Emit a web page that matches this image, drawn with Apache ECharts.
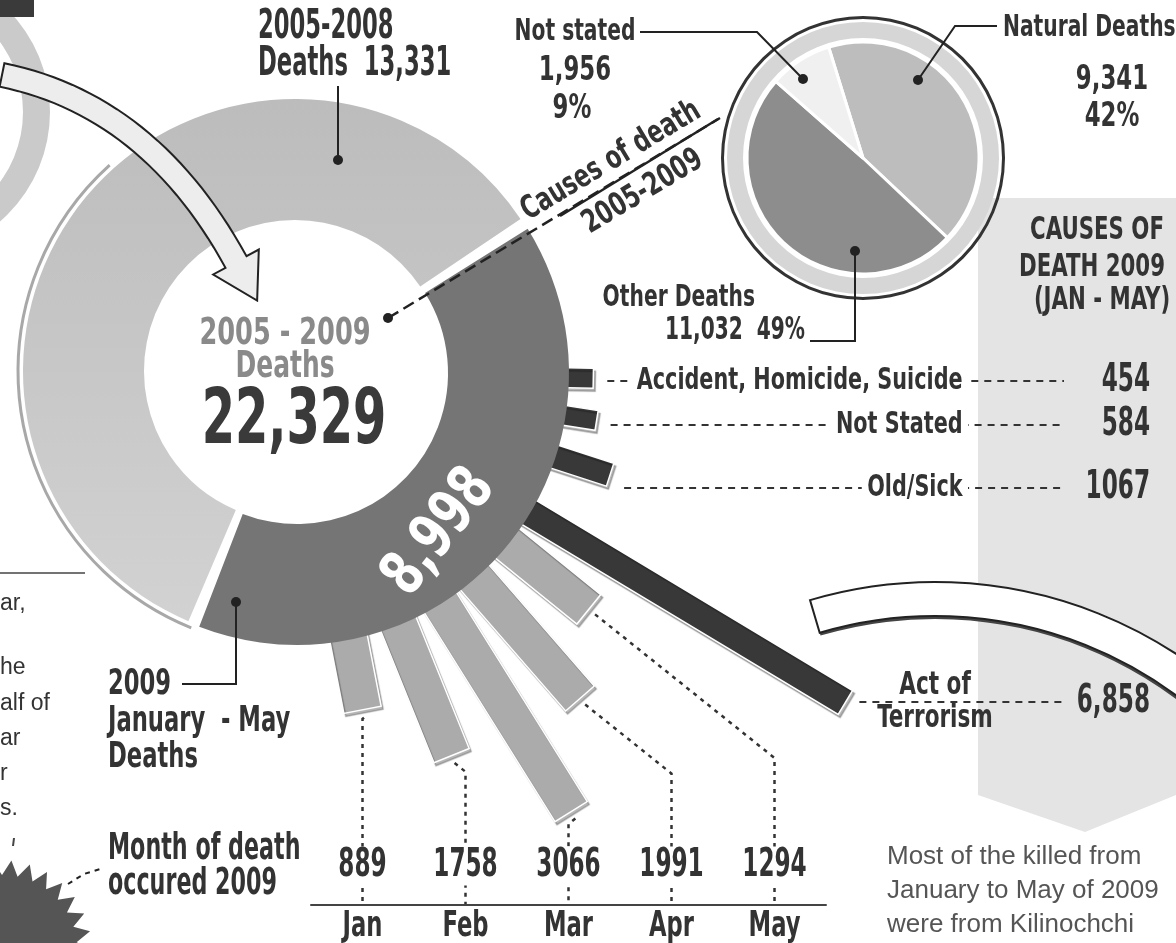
<!DOCTYPE html>
<html>
<head>
<meta charset="utf-8">
<title>Deaths 2005-2009</title>
<script src="https://cdn.jsdelivr.net/npm/echarts@6/dist/echarts.min.js"></script>
<style>
  html, body { margin: 0; padding: 0; background: #fff; }
  #chart { width: 1176px; height: 943px; }
</style>
</head>
<body>
<div id="chart"></div>
<script>
const periods = ['2009 January - May', '2005-2008'];
const periodDeaths = [8998, 13331];
const causes = ['Natural Deaths', 'Other Deaths', 'Not stated'];
const causeDeaths = [9341, 11032, 1956];
const causePct = [42, 49, 9];
const months = ['Jan', 'Feb', 'Mar', 'Apr', 'May'];
const monthDeaths = [889, 1758, 3066, 1991, 1294];
const causes2009 = ['Accident, Homicide, Suicide', 'Not Stated', 'Old/Sick', 'Act of\nTerrorism'];
const causes2009Deaths = [454, 584, 1067, 6858];

// ---- layout ----
const FONT = '"DejaVu Sans Condensed", "Liberation Sans Narrow", sans-serif';
const SANS = '"Liberation Sans", Arial, sans-serif';
const INK = '#333';
const ringC = [295, 371];
const darkC = [297, 373];
const ringR = [151, 272];
const causeAngles = [91, 99, 108, 121];
const causeRowY = [381, 425, 488, 702];
const causeBarW = [20, 20, 24, 28];
const monthAngles = [169, 158, 148, 139, 129];
const monthBarW = 38;
const axisLeft = 311, axisWidth = 515, axisY = 905;
const pieC = [863, 158];

const fmt = v => v.toLocaleString('en-US');
const total = periodDeaths.reduce((a, b) => a + b, 0);
const deg = Math.PI / 180;

function barGeom(params, api, width) {
  const cs = params.coordSys;
  const a = api.value(1);
  const base = api.coord([0, a]);
  const tip = api.coord([api.value(0), a]);
  let ux = base[0] - cs.cx, uy = base[1] - cs.cy;
  const l = Math.hypot(ux, uy);
  ux /= l; uy /= l;
  const nx = -uy * width / 2, ny = ux * width / 2;
  const s = [base[0] - ux * 14, base[1] - uy * 14];
  return {
    tip, ux, uy,
    pts: [[s[0] + nx, s[1] + ny], [tip[0] + nx, tip[1] + ny], [tip[0] - nx, tip[1] - ny], [s[0] - nx, s[1] - ny]]
  };
}

function barStyle(fill) {
  return { fill: fill, stroke: '#fff', lineWidth: 1.5, shadowColor: 'rgba(0,0,0,0.28)', shadowOffsetX: 2, shadowOffsetY: 3, shadowBlur: 1 };
}

// condensed heavy headline type: DejaVu Sans Condensed squeezed with scaleX
function txt(text, x, y, size, opts) {
  opts = opts || {};
  return {
    type: 'text', z: opts.z || 30, x: x, y: y, rotation: opts.rot || 0, scaleX: opts.sx || 1,
    style: {
      text: text, x: 0, y: 0,
      textAlign: opts.align || 'left', textVerticalAlign: 'middle',
      font: (opts.weight || 'bold') + ' ' + size + 'px ' + (opts.family || FONT),
      fill: opts.fill || INK
    }
  };
}
function poly(points, opts) {
  opts = opts || {};
  return { type: 'polyline', z: opts.z || 25, shape: { points: points },
    style: { stroke: opts.stroke || '#222', lineWidth: opts.w || 2, lineDash: opts.dash || null, fill: null } };
}
function dot(x, y) {
  return { type: 'circle', z: 26, shape: { cx: x, cy: y, r: 5 }, style: { fill: '#222' } };
}

function arrowPoints() {
  const P0 = [2, 75], C = [150, 105], P2 = [236, 262], hw = 12;
  const lo = [], hi = [];
  for (let k = 0; k <= 30; k++) {
    const t = k / 30;
    const x = (1 - t) * (1 - t) * P0[0] + 2 * (1 - t) * t * C[0] + t * t * P2[0];
    const y = (1 - t) * (1 - t) * P0[1] + 2 * (1 - t) * t * C[1] + t * t * P2[1];
    const dx = 2 * (1 - t) * (C[0] - P0[0]) + 2 * t * (P2[0] - C[0]);
    const dy = 2 * (1 - t) * (C[1] - P0[1]) + 2 * t * (P2[1] - C[1]);
    const l = Math.hypot(dx, dy);
    lo.push([x - dy / l * hw, y + dx / l * hw]);
    hi.push([x + dy / l * hw, y - dx / l * hw]);
  }
  let tx = P2[0] - C[0], ty = P2[1] - C[1];
  const tl = Math.hypot(tx, ty); tx /= tl; ty /= tl;
  const nx = -ty, ny = tx;
  return lo.concat([[P2[0] + nx * 26, P2[1] + ny * 26], [P2[0] + tx * 44, P2[1] + ty * 44], [P2[0] - nx * 26, P2[1] - ny * 26]], hi.reverse());
}

function starPoints(cx, cy, rOut, rIn, n) {
  const pts = [];
  for (let k = 0; k < n * 2; k++) {
    const r = k % 2 ? rIn : rOut;
    const a = Math.PI * k / n;
    pts.push([cx + r * Math.cos(a), cy + r * Math.sin(a)]);
  }
  return pts;
}

const note = { weight: 'normal', family: SANS, fill: '#555' };
const frag = { weight: 'normal', family: SANS, fill: '#333' };

const graphics = [
  // right hand panel
  { type: 'polygon', z: 0, shape: { points: [[978, 198], [1176, 198], [1176, 795], [1085, 832], [978, 795]] }, style: { fill: '#e4e4e4' } },
  // curved white band
  { type: 'sector', z: 4, shape: { cx: 935, cy: 1022, r: 409, r0: 403, startAngle: -106.5 * deg, endAngle: -30 * deg }, style: { fill: '#444' } },
  { type: 'sector', z: 5, shape: { cx: 935, cy: 1022, r: 440, r0: 406, startAngle: -106.5 * deg, endAngle: -30 * deg }, style: { fill: '#fff', stroke: '#222', lineWidth: 2 } },
  // thin outline along the left of the donut
  { type: 'arc', z: 3, shape: { cx: ringC[0], cy: ringC[1], r: 277, startAngle: 112 * deg, endAngle: 228 * deg }, style: { stroke: '#a8a8a8', lineWidth: 3, fill: null } },
  // partial graphic top-left
  { type: 'ring', z: 1, shape: { cx: -95, cy: 112, r: 145, r0: 118 }, style: { fill: '#cacaca' } },
  { type: 'rect', z: 1, shape: { x: 0, y: 0, width: 34, height: 17 }, style: { fill: '#3a3a3a' } },
  // arrow
  { type: 'polygon', z: 20, shape: { points: arrowPoints() }, style: { fill: '#ededed', stroke: '#222', lineWidth: 2 } },
  // left column fragments
  { type: 'line', z: 20, shape: { x1: 0, y1: 573, x2: 85, y2: 573 }, style: { stroke: '#444', lineWidth: 1.5 } },
  txt('ar,', 0, 604, 23, frag),
  txt('he', 0, 668, 23, frag),
  txt('alf of', 0, 704, 23, frag),
  txt('ar', 0, 739, 23, frag),
  txt('r', 0, 774, 23, frag),
  txt('s.', 0, 809, 23, frag),
  { type: 'line', z: 20, shape: { x1: 14, y1: 838, x2: 13, y2: 846 }, style: { stroke: '#444', lineWidth: 2 } },
  // starburst
  { type: 'polygon', z: 20, shape: { points: starPoints(2, 950, 90, 75, 30) }, style: { fill: '#555' } },
  poly([[68, 884], [84, 874], [100, 869]], { dash: [5, 5] }),

  // donut labels
  txt('2005-2008', 258, 28, 40, { sx: 0.63 }),
  txt('Deaths  ' + fmt(periodDeaths[1]), 258, 65, 40, { sx: 0.63 }),
  poly([[338, 86], [338, 158]]),
  dot(338, 160),
  txt('2005 - 2009', 285, 334, 38, { align: 'center', fill: '#8a8a8a', sx: 0.75 }),
  txt('Deaths', 285, 367, 38, { align: 'center', fill: '#8a8a8a', sx: 0.73 }),
  txt(fmt(total), 294, 423, 76, { align: 'center', fill: '#3a3a3a', sx: 0.7 }),
  txt(fmt(periodDeaths[0]), 440, 533, 62, { align: 'center', fill: '#fff', rot: 52 * deg, sx: 0.8 }),
  txt('2009', 108, 685, 36, { sx: 0.7 }),
  txt('January  - May', 108, 722, 36, { sx: 0.7 }),
  txt('Deaths', 108, 758, 36, { sx: 0.7 }),
  poly([[182, 684], [236, 684], [236, 602]]),
  dot(236, 602),
  txt('Month of death', 108, 849, 38, { sx: 0.65 }),
  txt('occured 2009', 108, 884, 38, { sx: 0.65 }),

  // causes of death link
  poly([[388, 318], [720, 118]], { dash: [12, 6], w: 2.5 }),
  poly([[560, 216], [718, 119]], { w: 2.5 }),
  dot(388, 318),
  txt('Causes of death', 611, 161, 32, { align: 'center', rot: 31 * deg, sx: 0.78 }),
  txt('2005-2009', 643, 192, 32, { align: 'center', rot: 31 * deg, sx: 0.78 }),

  // pie labels
  txt(causes[2], 575, 32, 30, { align: 'center', sx: 0.75 }),
  txt(fmt(causeDeaths[2]), 575, 71, 33, { align: 'center', sx: 0.77 }),
  txt(causePct[2] + '%', 572, 109, 33, { align: 'center', sx: 0.77 }),
  poly([[640, 32], [757, 32], [803, 79]]),
  dot(803, 79),
  txt(causes[0], 1003, 28, 30, { sx: 0.75 }),
  txt(fmt(causeDeaths[0]), 1112, 80, 33, { align: 'center', sx: 0.77 }),
  txt(causePct[0] + '%', 1112, 117, 33, { align: 'center', sx: 0.77 }),
  poly([[997, 26], [955, 26], [918, 80]]),
  dot(918, 80),
  txt(causes[1], 755, 298, 30, { align: 'right', sx: 0.75 }),
  txt(fmt(causeDeaths[1]) + '  ' + causePct[1] + '%', 805, 331, 32, { align: 'right', sx: 0.7 }),
  poly([[810, 341], [855, 341], [855, 251]]),
  dot(855, 251),

  // panel title
  txt('CAUSES OF', 1097, 231, 32, { align: 'center', sx: 0.74 }),
  txt('DEATH 2009', 1092, 268, 32, { align: 'center', sx: 0.74 }),
  txt('(JAN - MAY)', 1102, 301, 32, { align: 'center', sx: 0.74 }),

  // note
  txt('Most of the killed from', 887, 857, 26, note),
  txt('January to May of 2009', 887, 891, 26, note),
  txt('were from Kilinochchi', 887, 925, 26, note)
];

const hidden = { show: false };
const chart = echarts.init(document.getElementById('chart'));
chart.setOption({
  animation: false,
  backgroundColor: '#fff',
  polar: [
    { center: darkC, radius: [272, 701] },
    { center: darkC, radius: [272, 592] }
  ],
  angleAxis: [
    { polarIndex: 0, type: 'value', min: 0, max: 360, startAngle: 90, clockwise: true, show: false },
    { polarIndex: 1, type: 'value', min: 0, max: 360, startAngle: 90, clockwise: true, show: false }
  ],
  radiusAxis: [
    { polarIndex: 0, type: 'value', min: 0, max: 8000, show: false },
    { polarIndex: 1, type: 'value', min: 0, max: 4000, show: false }
  ],
  grid: { left: axisLeft, width: axisWidth, top: axisY - 1, height: 1 },
  xAxis: {
    type: 'category', data: months, position: 'bottom', z: 10,
    axisLine: { lineStyle: { color: '#444', width: 2 } }, axisTick: hidden,
    axisLabel: { show: false }
  },
  yAxis: { type: 'value', show: false },
  graphic: { elements: graphics },
  series: [
    {
      type: 'custom', name: 'Causes of death 2009', coordinateSystem: 'polar', polarIndex: 0, z: 1,
      data: causes2009Deaths.map((v, i) => [v, causeAngles[i]]),
      renderItem: function (params, api) {
        const i = params.dataIndex;
        const b = barGeom(params, api, causeBarW[i]);
        const y = causeRowY[i];
        const last = i === causes2009.length - 1;
        const v = causes2009Deaths[i];
        return {
          type: 'group',
          children: [
            { type: 'polygon', shape: { points: b.pts }, style: barStyle('#383838') },
            { type: 'line', shape: { x1: b.tip[0] + 14, y1: y, x2: 1064, y2: y }, style: { stroke: INK, lineWidth: 2, lineDash: [7, 6] } },
            {
              type: 'text', x: last ? 935 : 968, y: y, scaleX: last ? 0.75 : 0.77,
              style: {
                text: causes2009[i], x: 0, y: 0,
                textAlign: last ? 'center' : 'right', textVerticalAlign: 'middle',
                font: 'bold ' + (last ? 32 : 30) + 'px ' + FONT, fill: INK, lineHeight: 33,
                backgroundColor: last ? 'transparent' : '#fff', padding: last ? 0 : [0, 7]
              }
            },
            {
              type: 'text', x: 1150, y: y, scaleX: 0.66,
              style: {
                text: v >= 5000 ? fmt(v) : String(v), x: 0, y: 0,
                textAlign: 'right', textVerticalAlign: 'middle',
                font: 'bold 39px ' + FONT, fill: INK
              }
            }
          ]
        };
      }
    },
    {
      type: 'custom', name: 'Month of death 2009', coordinateSystem: 'polar', polarIndex: 1, z: 1,
      data: monthDeaths.map((v, i) => [v, monthAngles[i]]),
      renderItem: function (params, api) {
        const i = params.dataIndex;
        const b = barGeom(params, api, monthBarW);
        const lx = axisLeft + (i + 0.5) * axisWidth / months.length;
        const p0 = [b.tip[0] + b.ux * 8, b.tip[1] + b.uy * 8];
        const p1 = [lx, p0[1] + Math.abs(lx - p0[0]) * 0.8];
        return {
          type: 'group',
          children: [
            { type: 'polygon', shape: { points: b.pts }, style: barStyle('#ababab') },
            { type: 'polyline', shape: { points: [p0, p1, [lx, axisY]] }, style: { stroke: INK, lineWidth: 2.5, lineDash: [4, 5], fill: null } },
            {
              type: 'text', x: lx, y: axisY - 39, scaleX: 0.66,
              style: {
                text: String(monthDeaths[i]), x: 0, y: 0,
                textAlign: 'center', textVerticalAlign: 'middle',
                font: 'bold 39px ' + FONT, fill: INK,
                backgroundColor: '#fff', padding: [0, 5]
              }
            },
            {
              type: 'text', x: lx, y: axisY + 22, scaleX: 0.7,
              style: {
                text: months[i], x: 0, y: 0,
                textAlign: 'center', textVerticalAlign: 'middle',
                font: 'bold 36px ' + FONT, fill: INK
              }
            }
          ]
        };
      }
    },
    {
      type: 'pie', center: ringC, radius: ringR, startAngle: 33, silent: true, z: 3,
      label: hidden, labelLine: hidden, padAngle: 2,
      data: [
        { name: periods[0], value: periodDeaths[0], itemStyle: { color: 'transparent' } },
        {
          name: periods[1], value: periodDeaths[1],
          itemStyle: { color: { type: 'linear', x: 0, y: 0, x2: 0, y2: 1, colorStops: [{ offset: 0, color: '#bcbcbc' }, { offset: 1, color: '#d2d2d2' }] } }
        }
      ]
    },
    {
      type: 'pie', center: darkC, radius: ringR, startAngle: 33, silent: true, z: 3,
      label: hidden, labelLine: hidden, padAngle: 2,
      data: [
        { name: periods[0], value: periodDeaths[0], itemStyle: { color: '#757575' } },
        { name: periods[1], value: periodDeaths[1], itemStyle: { color: 'transparent' } }
      ]
    },
    {
      type: 'pie', center: pieC, radius: [139, 142], silent: true, z: 3,
      label: hidden, labelLine: hidden,
      data: [{ value: 1, itemStyle: { color: '#333' } }]
    },
    {
      type: 'pie', center: pieC, radius: [120, 136], silent: true, z: 3,
      label: hidden, labelLine: hidden,
      data: [{ value: 1, itemStyle: { color: '#d6d6d6' } }]
    },
    {
      type: 'pie', name: 'Causes of death 2005-2009', center: pieC, radius: [0, 116], startAngle: 107.2, silent: true, z: 3,
      label: hidden, labelLine: hidden,
      itemStyle: { borderColor: '#fff', borderWidth: 3 },
      data: causes.map((c, i) => ({
        name: c, value: causeDeaths[i],
        itemStyle: { color: ['#bdbdbd', '#8d8d8d', '#f0f0f0'][i] }
      }))
    }
  ]
});
</script>
</body>
</html>
